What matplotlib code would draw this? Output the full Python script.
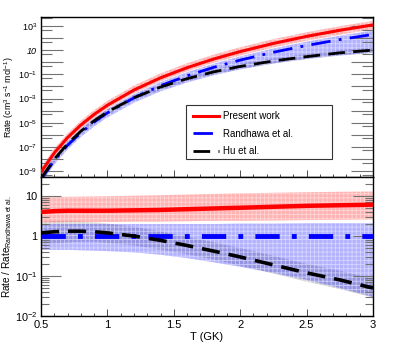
import numpy as np
import matplotlib
matplotlib.use("Agg")
import matplotlib.pyplot as plt
from matplotlib.patches import Rectangle
from matplotlib.ticker import LogLocator, FuncFormatter, MultipleLocator, NullFormatter

plt.rcParams['font.family'] = ['Liberation Sans', 'DejaVu Sans']
plt.rcParams['mathtext.fontset'] = 'custom'
plt.rcParams['mathtext.rm'] = 'Liberation Sans'
plt.rcParams['mathtext.it'] = 'Liberation Sans:italic'
plt.rcParams['hatch.linewidth'] = 0.6

# temperature grid (GK)
T = [0.5, 0.6, 0.7, 0.8, 0.9, 1.0, 1.2, 1.4, 1.6, 1.8, 2.0, 2.25, 2.5, 2.75, 3.0]

# log10 of Randhawa et al. rate (cm^3 s^-1 mol^-1)
log_randhawa = [-9.70, -8.13, -6.87, -5.83, -4.95, -4.19, -2.94, -1.94,
                -1.12, -0.42, 0.18, 0.83, 1.39, 1.88, 2.31]
randhawa_lo = [0.45, 0.45, 0.45, 0.44, 0.43, 0.42, 0.39, 0.34,
               0.28, 0.22, 0.17, 0.12, 0.08, 0.05, 0.03]
randhawa_hi = [2.0, 2.0, 2.0, 2.0, 2.0, 2.0, 2.0, 2.0,
               2.0, 2.0, 2.05, 2.05, 2.1, 2.1, 2.1]

# ratios to Randhawa et al.
present = [4.0, 4.2, 4.3, 4.3, 4.3, 4.3, 4.4, 4.5, 4.7, 4.9, 5.1, 5.4, 5.7, 5.9, 6.1]
present_lo = [2.2, 2.2, 2.25, 2.25, 2.25, 2.25, 2.3, 2.3, 2.35, 2.4, 2.4, 2.45, 2.5, 2.55, 2.6]
present_hi = [9.4, 9.5, 9.6, 9.7, 9.8, 9.9, 10.2, 10.5, 10.9, 11.3, 11.7, 12.1, 12.5, 12.8, 13.0]

hu = [1.2, 1.28, 1.32, 1.32, 1.28, 1.2, 1.0, 0.78, 0.58, 0.42, 0.30, 0.19, 0.12, 0.08, 0.05]
hu_lo = [0.6, 0.66, 0.7, 0.72, 0.72, 0.68, 0.58, 0.46, 0.35, 0.26, 0.18, 0.115, 0.072, 0.047, 0.029]
hu_hi = [2.3, 2.35, 2.35, 2.3, 2.2, 2.05, 1.7, 1.3, 0.96, 0.7, 0.5, 0.32, 0.2, 0.135, 0.085]

T = np.array(T)
rand = 10.0 ** np.array(log_randhawa)


def band(ax, y_lo, y_hi, rgb):
    ax.fill_between(T, y_lo, y_hi, facecolor=rgb + (0.3,),
                    edgecolor=(1, 1, 1, 0.45), hatch='++++', linewidth=0, zorder=1)


red = (1.0, 0.0, 0.0)
blue = (0.0, 0.0, 1.0)
grey = (0.45, 0.45, 0.45)

fig = plt.figure(figsize=(4.15, 3.52), dpi=100)
ax1 = fig.add_axes([41 / 415, 1 - 177 / 352, 332 / 415, 160 / 352])
ax2 = fig.add_axes([41 / 415, 1 - 316 / 352, 332 / 415, 139 / 352])

# ---- top panel: rates ----
band(ax1, rand * np.array(hu_lo), rand * np.array(hu_hi), grey)
band(ax1, rand * np.array(randhawa_lo), rand * np.array(randhawa_hi), blue)
band(ax1, rand * np.array(present_lo), rand * np.array(present_hi), red)
ax1.plot(T, rand * np.array(present), color='red', lw=2.2, label='Present work', zorder=3)
ax1.plot(T, rand, color='blue', lw=2.0, dashes=(7, 3, 1, 3), label='Randhawa et al.', zorder=3)
ax1.plot(T, rand * np.array(hu), color='black', lw=2.0, dashes=(6, 3), label='Hu et al.', zorder=3)

ax1.set_yscale('log')
ax1.set_xlim(0.5, 3)
ax1.set_ylim(10 ** -9.5, 10 ** 3.75)
ax1.yaxis.set_major_locator(LogLocator(base=10, subs=(1.0,), numticks=30))
ax1.yaxis.set_minor_locator(LogLocator(base=10, subs=(5.0,), numticks=30))


def top_fmt(v, pos):
    e = int(round(np.log10(v)))
    if e % 2 == 0:
        return ''
    if e == 1:
        return '10'
    return r'$10^{%d}$' % e


ax1.yaxis.set_major_formatter(FuncFormatter(top_fmt))
ax1.yaxis.set_minor_formatter(NullFormatter())
ax1.xaxis.set_major_locator(MultipleLocator(0.5))
ax1.xaxis.set_minor_locator(MultipleLocator(0.1))
ax1.set_xticklabels([])
ax1.set_ylabel(r'Rate (cm$^{3}$ s$^{-1}$ mol$^{-1}$)', fontsize=6.3)
ax1.yaxis.set_label_coords(-25 / 332, 0.5)
for lab in ax1.get_yticklabels():
    lab.set_fontstyle('italic')
ax1.tick_params(axis='y', which='major', direction='in', left=True, right=True,
                length=15.5, width=0.8, color='0.45', labelsize=6.5, pad=3)
ax1.tick_params(axis='y', which='minor', direction='in', left=True, right=True,
                length=8, width=0.8, color='0.45')
ax1.tick_params(axis='x', which='major', direction='in', top=False, length=5, width=0.7, color='0.3')
ax1.tick_params(axis='x', which='minor', direction='in', top=False, length=2.5, width=0.7, color='0.3')

# legend box like the ROOT TLegend
ax1.add_patch(Rectangle(((186 - 41) / 332, (177 - 159) / 160), 146 / 332, 54 / 160,
                        transform=ax1.transAxes, facecolor='white', edgecolor='0.2',
                        linewidth=0.8, zorder=4))
leg = ax1.legend(loc='upper left', bbox_to_anchor=(147 / 332, 1 - 89 / 160), fontsize=7,
                 frameon=False, handlelength=2.6, borderpad=0.55,
                 labelspacing=0.75, handletextpad=0.5, borderaxespad=0)
leg.set_zorder(5)

# ---- bottom panel: ratios ----
band(ax2, hu_lo, hu_hi, grey)
band(ax2, randhawa_lo, randhawa_hi, blue)
band(ax2, present_lo, present_hi, red)
ax2.plot(T, present, color='red', lw=3.2, zorder=3)
ax2.plot(T, np.ones_like(T), color='blue', lw=3.5, dashes=(5, 2.5, 1, 2.5), zorder=3)
ax2.plot(T, hu, color='black', lw=2.6, dashes=(5, 2.5), zorder=3)

ax2.set_yscale('log')
ax2.set_xlim(0.5, 3)
ax2.set_ylim(0.01, 30)
ax2.yaxis.set_major_locator(LogLocator(base=10, subs=(1.0,), numticks=10))
ax2.yaxis.set_minor_locator(LogLocator(base=10, subs=np.arange(2, 10), numticks=10))


def bot_fmt(v, pos):
    e = int(round(np.log10(v)))
    if e == 0:
        return '1'
    if e == 1:
        return '10'
    return r'$10^{%d}$' % e


ax2.yaxis.set_major_formatter(FuncFormatter(bot_fmt))
ax2.yaxis.set_minor_formatter(NullFormatter())
ax2.xaxis.set_major_locator(MultipleLocator(0.5))
ax2.xaxis.set_minor_locator(MultipleLocator(0.1))
ax2.xaxis.set_major_formatter(FuncFormatter(lambda v, p: '%g' % v))
ax2.tick_params(axis='y', which='major', direction='in', left=True, right=True,
                length=14.5, width=0.8, color='0.45', labelsize=7.8, pad=2.5)
ax2.tick_params(axis='y', which='minor', direction='in', left=True, right=True,
                length=6, width=0.8, color='0.45')
ax2.tick_params(axis='x', which='major', direction='in', top=False, length=5, width=0.7,
                color='0.3', labelsize=8, pad=3)
ax2.tick_params(axis='x', which='minor', direction='in', top=False, length=2.5, width=0.7, color='0.3')
ax2.set_xlabel('T (GK)', fontsize=8, labelpad=1)
ax2.set_ylabel(r'Rate / Rate$_{\mathrm{Randhawa\ et\ al.}}$', fontsize=7.2)
ax2.yaxis.set_label_coords(-27 / 332, 0.5)

for ax in (ax1, ax2):
    for s in ax.spines.values():
        s.set_linewidth(1.0)

fig.savefig('out.png', dpi=100)
